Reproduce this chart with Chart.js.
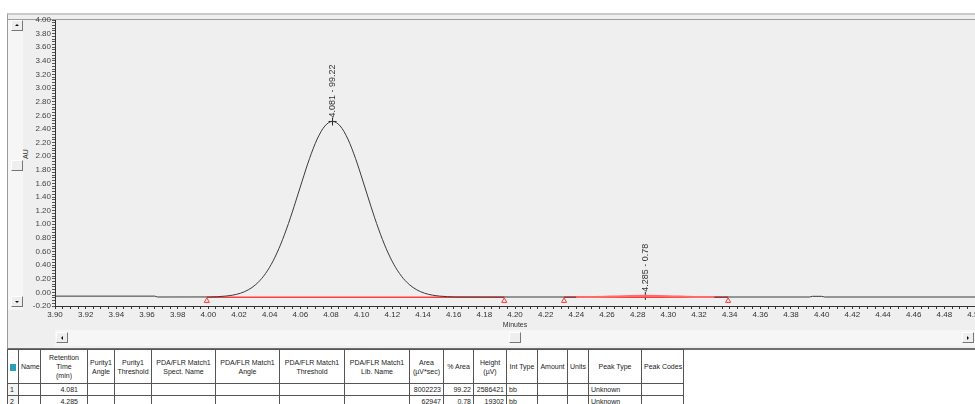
<!DOCTYPE html>
<html>
<head>
<meta charset="utf-8">
<script src="https://cdn.jsdelivr.net/npm/chart.js@4.4.1/dist/chart.umd.min.js"></script>
<style>
  body { margin: 0; background: #fff; font-family: Arial, "Liberation Sans", sans-serif; width: 975px; height: 404px; overflow: hidden; position: relative; }
  #panel { position: absolute; left: 7px; top: 13px; width: 975px; height: 333px; background: #efefef; border-left: 1px solid #9a9a9a; border-top: 2px solid #c9c9c9; border-bottom: 2px solid #707070; }
  #topline { position: absolute; left: 8px; top: 19px; width: 975px; height: 1px; background: #9c9c9c; }
  #strip { position: absolute; left: 8px; top: 20px; width: 15px; height: 290px; background: #f6f6f6; }
  .btn { position: absolute; width: 10px; height: 9px; background: #eee; border: 1px solid #fff; border-right-color: #777; border-bottom-color: #777; }
  .up::after, .down::after { content: ""; position: absolute; left: 3px; border-left: 2px solid transparent; border-right: 2px solid transparent; }
  .up::after { top: 3px; border-bottom: 2px solid #111; }
  .down::after { top: 4px; border-top: 2px solid #111; }
  .left::after, .right::after { content: ""; position: absolute; top: 3px; border-top: 2px solid transparent; border-bottom: 2px solid transparent; }
  .left::after { left: 4px; border-right: 2px solid #111; }
  .right::after { left: 4px; border-left: 2px solid #111; }
  #au { position: absolute; left: 22px; top: 159px; font-size: 7px; color: #333; transform: rotate(-90deg); transform-origin: left top; }
  #hscroll { position: absolute; left: 55px; top: 330px; width: 925px; height: 16px; background: #f6f6f6; }
  #wrap { position: absolute; left: 0; top: 0; width: 980px; height: 330px; }
  table { position: absolute; left: 7px; top: 349px; width: 676px; border-collapse: collapse; font-size: 7px; color: #222; table-layout: fixed; }
  th, td { border: 1px solid #555; padding: 0 2px; overflow: hidden; white-space: nowrap; }
  th { font-weight: normal; text-align: center; height: 33px; line-height: 9px; }
  td { height: 11px; line-height: 11px; }
  td.r { text-align: right; }
  td.n { background: #f4f4f4; }
  .icon { display: inline-block; width: 6px; height: 7px; background: #2b9fb8; vertical-align: middle; }
</style>
</head>
<body>
<div id="panel"></div>
<div id="topline"></div>
<div id="strip"></div>
<div class="btn up" style="left:11px; top:20px;"></div>
<div class="btn" style="left:11px; top:160px;"></div>
<div class="btn down" style="left:11px; top:296px;"></div>
<div id="au">AU</div>
<div id="hscroll"></div>
<div class="btn left" style="left:56px; top:332px;"></div>
<div class="btn" style="left:509px; top:332px;"></div>
<div class="btn right" style="left:962px; top:332px;"></div>
<div id="wrap"><canvas id="chart"></canvas></div>
<table id="peaks"></table>

<script>
// chromatogram trace (minutes, AU)
const traceTimes = [3.900, 3.965, 3.967,
  4.001, 4.006, 4.011, 4.016, 4.021, 4.026, 4.031, 4.036, 4.041, 4.046, 4.051, 4.056, 4.061, 4.066, 4.071, 4.076, 4.081,
  4.086, 4.091, 4.096, 4.101, 4.106, 4.111, 4.116, 4.121, 4.126, 4.131, 4.136, 4.141, 4.146, 4.151, 4.156, 4.161,
  4.180, 4.240, 4.262, 4.285, 4.308, 4.330, 4.392, 4.394, 4.400, 4.402, 4.500];
const traceAU = [-0.055, -0.055, -0.068,
  -0.067, -0.063, -0.055, -0.040, -0.012, 0.037, 0.116, 0.237, 0.410, 0.642, 0.931, 1.266, 1.622, 1.966, 2.252, 2.443, 2.510,
  2.443, 2.252, 1.966, 1.622, 1.266, 0.931, 0.642, 0.410, 0.237, 0.116, 0.037, -0.012, -0.040, -0.055, -0.063, -0.067,
  -0.068, -0.068, -0.062, -0.051, -0.062, -0.068, -0.068, -0.058, -0.058, -0.068, -0.068];

// integration baselines (start / end of each peak)
const baseStart = [3.999, 4.232];
const baseEnd = [4.193, 4.339];
const baseAU = -0.072;
const markerAU = -0.125;

// peak table
const peakNo = [1, 2];
const retTimes = [4.081, 4.285];
const apexAU = [2.510, -0.051];
const areas = [8002223, 62947];
const pctArea = [99.22, 0.78];
const heights = [2586421, 19302];
const intTypes = ['bb', 'bb'];
const peakTypes = ['Unknown', 'Unknown'];
const headers = ['', 'Name', 'Retention\nTime\n(min)', 'Purity1\nAngle', 'Purity1\nThreshold', 'PDA/FLR Match1\nSpect. Name',
  'PDA/FLR Match1\nAngle', 'PDA/FLR Match1\nThreshold', 'PDA/FLR Match1\nLib. Name', 'Area\n(µV*sec)', '% Area', 'Height\n(µV)',
  'Int Type', 'Amount', 'Units', 'Peak Type', 'Peak Codes'];
const colWidths = [11, 22, 47, 27, 37, 64, 64, 65, 65, 34, 30, 33, 31, 30, 21, 53, 42];

const tracePts = traceTimes.map((t, i) => ({ x: t, y: traceAU[i] }));
const basePts = [];
baseStart.forEach((s, i) => {
  basePts.push({ x: s, y: baseAU }, { x: baseEnd[i], y: baseAU }, { x: baseEnd[i] + 0.001, y: null });
});
const markerPts = [];
baseStart.forEach((s, i) => { markerPts.push({ x: s, y: markerAU }, { x: baseEnd[i], y: markerAU }); });
const apexPts = retTimes.map((t, i) => ({ x: t, y: apexAU[i] }));

const peakLabels = {
  id: 'peakLabels',
  afterDatasetsDraw(chart) {
    const { ctx, scales } = chart;
    ctx.save();
    ctx.font = '9px Arial';
    ctx.fillStyle = '#333';
    ctx.textAlign = 'left';
    ctx.textBaseline = 'middle';
    retTimes.forEach((t, i) => {
      const px = scales.x.getPixelForValue(t);
      const py = scales.y.getPixelForValue(apexAU[i]);
      ctx.save();
      ctx.translate(px, py - 4);
      ctx.rotate(-Math.PI / 2);
      ctx.fillText(t.toFixed(3) + ' - ' + pctArea[i].toFixed(2), 0, 0);
      ctx.restore();
    });
    ctx.restore();
  }
};

// the small second peak is drawn in red like the integrated region
const inSmallPeak = ctx => ctx.p0.parsed.x >= baseStart[1] && ctx.p1.parsed.x <= baseEnd[1];

new Chart(document.getElementById('chart'), {
  type: 'scatter',
  data: {
    datasets: [
      { data: tracePts, showLine: true, borderColor: '#3a3a3a', borderWidth: 1, pointRadius: 0, cubicInterpolationMode: 'monotone',
        segment: { borderColor: c => (inSmallPeak(c) ? '#ff6a6a' : undefined), borderWidth: c => (inSmallPeak(c) ? 2 : undefined) } },
      { data: basePts, showLine: true, spanGaps: false, borderColor: '#ff3b3b', borderWidth: 1.5, pointRadius: 0 },
      { data: markerPts, showLine: false, pointStyle: 'triangle', pointRadius: 3, borderColor: '#ff3b3b', borderWidth: 1, backgroundColor: 'rgba(0,0,0,0)' },
      { data: apexPts, showLine: false, pointStyle: 'cross', pointRadius: 4, borderColor: '#222', borderWidth: 1 }
    ]
  },
  options: {
    responsive: true,
    maintainAspectRatio: false,
    animation: false,
    events: [],
    layout: { padding: { top: 20, right: 4, left: 0, bottom: 0 } },
    plugins: { legend: { display: false }, tooltip: { enabled: false } },
    scales: {
      x: {
        type: 'linear', min: 3.90, max: 4.50,
        title: { display: true, text: 'Minutes', color: '#333', font: { size: 7 }, padding: { top: 0, bottom: 1 } },
        ticks: {
          stepSize: 0.005, autoSkip: false, maxRotation: 0, color: '#333', font: { size: 8 }, padding: 1,
          callback: v => (Math.round(v * 1000) % 20 === 0 ? v.toFixed(2) : '')
        },
        grid: { drawOnChartArea: false, tickLength: 3, color: '#333' },
        border: { color: '#333' },
        afterFit: s => { s.height = 24; s.paddingLeft = 0; s.paddingRight = 0; }
      },
      y: {
        min: -0.20, max: 4.00,
        ticks: {
          stepSize: 0.04, maxTicksLimit: 200, autoSkip: false, color: '#444', font: { size: 8 }, padding: 1,
          callback: v => (Math.round(v * 100) % 20 === 0 ? v.toFixed(2) : '')
        },
        grid: { drawOnChartArea: false, tickLength: 3, color: '#555' },
        border: { color: '#333' },
        afterFit: s => { s.width = 55; s.paddingTop = 0; s.paddingBottom = 0; }
      }
    }
  },
  plugins: [peakLabels]
});

// peak result table
const tbl = document.getElementById('peaks');
let html = '<colgroup>' + colWidths.map(w => '<col style="width:' + w + 'px">').join('') + '</colgroup><tr>';
headers.forEach((h, i) => { html += '<th>' + (i === 0 ? '<span class="icon"></span>' : h.replace(/\n/g, '<br>')) + '</th>'; });
html += '</tr>';
peakNo.forEach((n, i) => {
  html += '<tr><td class="n">' + n + '</td><td></td><td class="r" style="padding-right:9px">' + retTimes[i].toFixed(3) + '</td>' +
    '<td></td><td></td><td></td><td></td><td></td><td></td>' +
    '<td class="r">' + areas[i] + '</td><td class="r">' + pctArea[i].toFixed(2) + '</td><td class="r">' + heights[i] + '</td>' +
    '<td>' + intTypes[i] + '</td><td></td><td></td><td>' + peakTypes[i] + '</td><td></td></tr>';
});
tbl.innerHTML = html;
</script>
</body>
</html>
